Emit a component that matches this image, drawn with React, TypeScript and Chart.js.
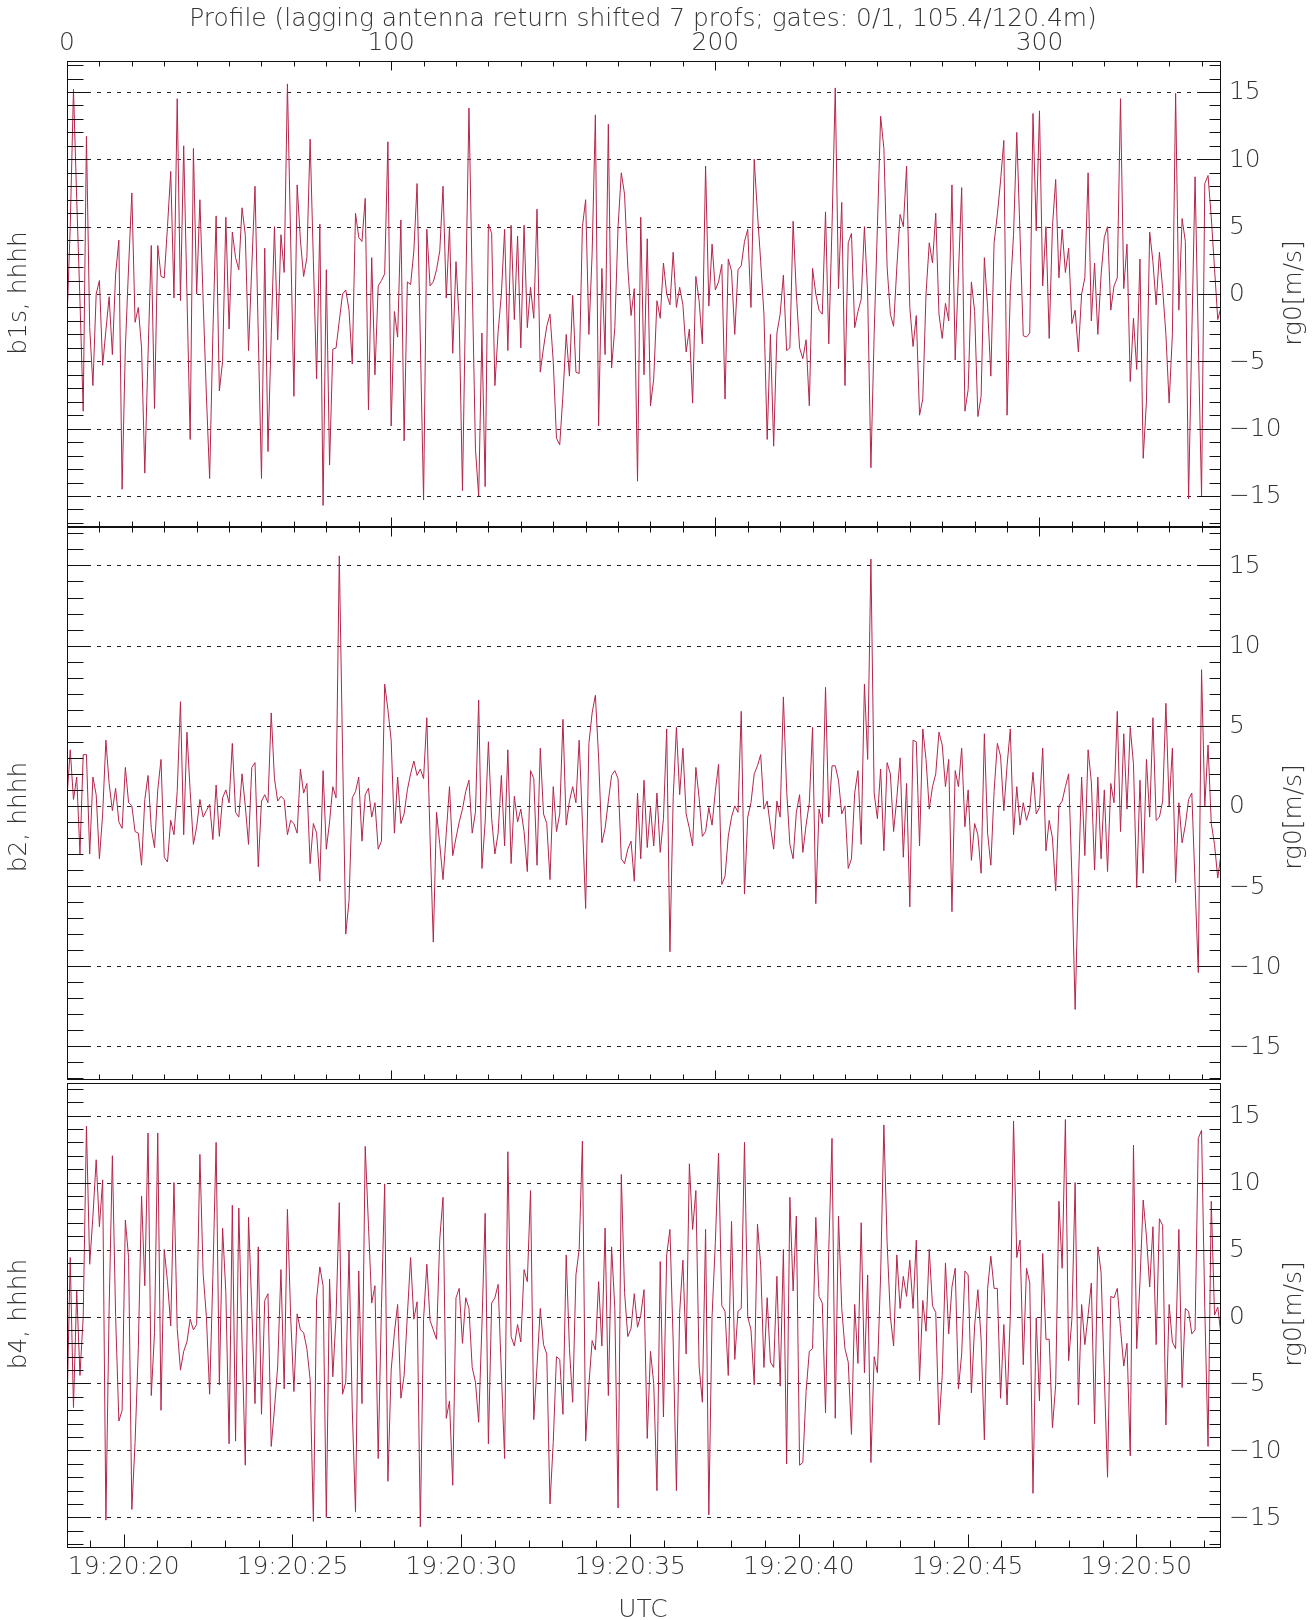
import React, { useEffect, useRef } from 'react';
import { Chart, registerables } from 'chart.js';

Chart.register(...registerables);

// ---------------- data ----------------
const PROFILE_MAX = 356;
const TIME_START = 18.32; // seconds after 19:20:00 at profile 0
const TIME_END = 52.51; // seconds after 19:20:00 at profile 356

const profileTickLabels = [0, 100, 200, 300];
const timeTickSeconds = [20, 25, 30, 35, 40, 45, 50];
const timeTickLabels = ['19:20:20', '19:20:25', '19:20:30', '19:20:35', '19:20:40', '19:20:45', '19:20:50'];
const yTickValues = [15, 10, 5, 0, -5, -10, -15];

const b1s = [
  -2, 5, 15.2, 7, -0.5, -8.7, 11.7, -2.5, -6.8, 0,
  1, -5.3, -2.7, -0.2, -4.5, 1.5, 4, -14.5, -4, 2,
  7.5, -2.1, -1, -4, -13.3, -4.5, 3.6, -8.5, 3.6, 1.3,
  1.2, 5, 9.1, -0.3, 14.5, -0.5, 11, 0, -10.8, 10.8,
  0, 7, -0.5, -7.5, -13.7, -3, 5.8, -7.2, -5, 5.7,
  -2.6, 4.6, 2.7, 1.8, 6.4, 4.4, -4.2, 2, 8, -3,
  -13.7, 3.4, -11.7, -3, 5, -3.4, 4.4, 1.6, 15.6, 4,
  -7.6, 8.1, 4, 1.3, 2.7, 11.5, 2.5, -6.3, 5.2, -15.7,
  1.8, -12.7, -4.1, -4, -2, 0, 0.3, -1.2, -5.2, 6,
  4.2, 3.9, 7.1, -8.6, 2.7, -6, 0.6, 1, 1.5, 11.3,
  -9.8, -1.3, -3.2, 5.5, -10.9, 0.9, 0.7, 3.2, 8.2, -3.5,
  -15.3, 4.8, 0.6, 0.9, 1.8, 3.2, 8, -0.3, 5, -4.4,
  2.4, -2, -14.6, 0, 13.8, 1, -11.5, -15, -2.9, -14.3,
  5.2, 4.5, -6.8, -2.8, 0, 4.8, -4.2, 5.1, -1.9, 4.3,
  -4, 5.1, -2.5, 0.5, -1.8, 6.3, -5.8, -4, -2.4, -1.5,
  -5, -10.7, -11.2, -7.5, -3, -6.1, -0.1, -5.8, -5.9, 5,
  7, -3, 3, 13.3, -9.8, 1.9, -4.5, 12.6, -5.5, -2.5,
  5, 9, 7.4, 2, -1.6, 0.4, -13.9, 5.7, -6, 4.1,
  -8.3, -6.3, -0.5, -1.8, 2.3, 0, -0.8, 3.1, -1, 0.5,
  -0.8, -4.3, -2.6, -8.1, 1.3, -0.5, -3.7, 9.5, -0.9, 3.7,
  0.3, 0.9, 2.2, -7.8, 2.6, 1.7, -3, 1.8, 2.1, 3.9,
  4.8, -1, 10, 6, 2.4, -1.5, -10.8, -3, -11.3, -2.9,
  -1.5, 1.4, -4.2, -4, 5.4, 0, -4, -4.8, -3.4, -8.3,
  1.9, 0, -1.2, -1.5, 6.1, -3.7, 5, 15.3, 0.4, 6.8,
  -6.8, 3.8, 4.5, -2.5, -1.3, -0.4, 5, 0, -12.9, -3,
  5, 13.2, 10.8, 2, -1.5, -2.4, 2, 5.9, 5, 9.5,
  -1, -3.9, -1.6, -9, -7.8, 0, 3.8, 2.3, 6, -1.5,
  -3.3, -0.7, -2, 8.1, -4.9, 1.5, 7.9, -8.7, -7.1, 0.9,
  -1.3, -9.1, -7.6, 2.7, -1, -6.1, 3.8, 5.9, 8.4, 11.4,
  -9, 0.2, 4.4, 12, 4.4, -3.1, -3.2, -2.9, 13.4, 4.7,
  13.6, 0.6, 5, -3.3, 5, 8.5, 1.2, 4.8, 1.6, 3.4,
  -2.2, -1.2, -4.3, 0, 1.2, 9, -2, 2.3, -3, 1.4,
  4.2, 5, -1.2, 0.6, 1.2, 14.5, 0.4, 3.7, -6.5, -1.8,
  -5.6, 2.6, -12.2, -8, 4.6, 2.4, -0.8, 3.1, 0.4, -3,
  -8.1, -3, 14.9, -1.2, 5.6, 3.9, -15.2, -3, 8.7, -3.5,
  -15, 8.2, 8.8, 5.7, 1.9, -1.9, -1,
];

const b2 = [
  0.5, 3.5, 0.4, 1.8, -3, 3.2, 3.2, -3, 1.8, 0.7,
  -3.3, -0.5, 4.1, 1.4, -0.3, 1.1, -1, -1.4, 2.4, 0.2,
  0, -1.6, -1.7, -3.7, 0.4, 1.9, -1.4, -2.6, 1, 2.9,
  -3.2, -3.5, -0.9, -1.8, 0.9, 6.5, -1.8, 4.6, 0.9, -2.4,
  -1.3, 0.4, -0.7, -0.3, 0.1, -2.1, 1.3, -1.9, 0.5, 1,
  0.2, 3.9, -0.4, -0.7, 2, 0, -2.4, 2.4, 2.7, -3.8,
  0.3, 0.7, 0.2, 5.8, 1.7, 0.3, 0.6, 0.4, -1.8, -0.9,
  -1.1, -1.7, 2.3, 0.8, 1.4, -3.6, -1.1, -1.7, -4.7, 2.2,
  -2.7, -1, 1.2, 0.5, 15.6, 3.5, -8, -5.9, 0.5, 0.9,
  1.8, -2.2, 0.7, 1.1, -0.7, 0.2, -2.7, -2.2, 7.6, 6,
  4.1, -1.7, 1.8, -1.1, -0.5, 1, 2, 2.8, 1.9, 2.3,
  1.7, 5.5, -2, -8.5, -0.4, -2.4, -4.6, -1.7, 1.2, -3.1,
  -2, -1, -0.2, 0.9, 1.6, -1.7, -0.4, 6.6, -3.9, -1,
  4, -0.8, -3, -1.7, 1.9, -2.5, 3.5, -3.6, 0.6, -1,
  -0.2, -1.6, -4.1, 2.2, 1.7, -3.7, 3.6, -0.5, -1.1, -4.6,
  1.2, -1.6, -0.5, 5.4, -1.2, 0.3, 1.2, 0.2, 4.1, -1,
  -6.4, 3.9, 5.8, 6.9, 3, -2.3, -1.4, 0.3, 1.9, 2.2,
  1.7, -3.3, -3.6, -2.7, -2.2, -4.7, 0.8, -3.3, 1.6, -2.6,
  -0.1, -2.5, 0.8, -2.9, -0.8, 4.8, -9.1, 0.5, 4.9, 0.7,
  3.6, -0.5, -1.4, -2.5, 2.4, 0.5, -1.9, -1.6, -0.1, -1.2,
  0.9, 2.6, -4.9, -4.4, -1.9, -0.7, 0, -0.4, 5.9, -5.5,
  -0.7, 0.2, 2, 2.5, 3.2, -0.2, 0.3, -1.3, -2.7, 0.3,
  -0.7, 6.8, 1, -2.4, -3.3, -0.4, 0.7, -2.9, -1.2, 0.2,
  4.9, -6.1, -0.2, -1.1, 7.4, -0.7, 2.5, 2.5, 1.6, -0.5,
  0, -3.9, -3.3, 0.8, 2.2, -2.4, 7.6, 2.9, 15.4, 0.8,
  -0.8, 2.3, -2.8, 2.7, 2, -1.6, 0.5, 3, -3.2, 1.4,
  -6.3, 4.1, 4, -2.5, 4.8, 2.9, -0.2, 1.2, 2, 4.6,
  3.8, 1.2, 2.9, -6.6, 2.2, 1.2, 3.6, -1.3, 1, -3.4,
  -1.1, -1.8, -4.2, 4.5, -1.7, -3.7, 0.9, 3.9, 3.1, -0.3,
  2.5, 4.8, -1.8, 1.2, -1.2, 0.2, -0.9, -0.2, 2.1, -0.5,
  -0.1, 3.6, -2.8, -0.9, -2, -5.3, 0, 0.3, 1.2, 2,
  -4.4, -12.7, -4.9, 1.8, -3.1, 3.5, 1.5, -4, 1.8, -3.3,
  1, -4.1, 1.4, 0.2, 5.9, -1.6, 4.5, -0.2, 4.9, 2.6,
  -5.1, 1.6, -4.2, 2.9, -0.7, 5.5, -0.9, -0.7, 0.3, 6.4,
  0, 3.6, -4.8, 0.2, -2.3, -1.2, 0.4, 0.8, -4.9, -10.4,
  8.5, 0, 3.8, -1.1, -2.4, -4.5, -3,
];

const b4 = [
  -7, 4.4, -6.8, 1.9, -4.4, 0, 14.2, 3.9, 7.5, 11.7,
  6.7, 10.2, -15.2, 0.6, 12, 0, -7.8, -7, 7.2, 4.4,
  -14.4, -9.4, -2.4, 9, 2.3, 13.7, -5.9, -1.2, 13.7, -7,
  5, 2.6, -0.7, 10, -0.9, -4, -2.6, -1.9, -0.2, -1,
  -0.6, 12.1, 3.2, 0, -5.8, 3, 13, -5.1, 6.6, 1.8,
  -9.5, 8.3, -9.3, 8.1, -1.9, -11.1, 7.4, 0.6, -6.5, 5.2,
  -7.3, 1.2, 1.7, -9.7, -6.9, -3.7, 3.5, -5.4, 8, 0,
  -5.6, 0.2, -1, -1.2, -2.4, -4.7, -15.3, 1.3, 3.7, 2.3,
  -15, 2.8, -4.5, 0, 8.5, -5.8, -4.9, 4.9, -6.9, -14.6,
  3.4, -6.5, 12.7, 6.8, 1, 2.3, -10.6, 0.6, 9.9, -12.3,
  -4, -1.2, 0.9, -6.1, -4.4, 0.1, 4.4, -0.2, 1.1, -15.7,
  -0.2, 3.9, -0.3, -1, -1.7, 5.8, 8.9, -7.6, -6.3, -12.6,
  1.4, 2.1, -2, 1.4, 0.6, -3.8, -4.9, -7.9, -0.7, 7.7,
  -9.5, 1, 1.4, 2.4, -4.2, -10.6, 12.3, -1.5, -2.2, -0.6,
  -1.9, 3.5, 2.6, 9.4, -7.7, -3.7, 0.6, -2.1, -2.8, -14,
  -9.4, -3, -3.2, -7.3, 4.6, -2.4, -6.4, 3.1, 5, 13.1,
  -9.3, -5.1, -1.8, -2.5, 2.6, -2.2, 6.6, -5.9, 5.2, 0.6,
  -14.3, 10.6, 1.8, -1.5, -0.9, 1.7, -0.8, 0.1, 2, -9.1,
  -2.6, -5, -13, 4.1, -7.5, 4.6, 6.5, -1.9, -13, 0.3,
  4.2, -2.8, 11.4, 6.5, 9.4, -3.7, -6.4, 6.5, -14.8, 0,
  5.5, 12.2, 0.8, 0.4, -4.4, 7.1, -3.2, 0.4, 0.6, 13,
  0, -1, -5.1, 6.9, 3.8, -3.8, 1.4, -3.4, -3.8, 3,
  -5.2, 5, -11, 8.9, 1.9, 7.5, -11.1, -10.9, -5.6, -2.6,
  -2.4, 7.4, 1.5, 1, -7.2, 5, 13.3, -7.6, 7.5, 0.6,
  -2.4, -3.4, -8.8, 0.9, -3.5, 7, -4.2, 3.1, -10.9, -3,
  -4.2, 3.1, 14.3, 5.5, 0, -2.2, 4.6, 0.6, 3, 1.5,
  4.2, 0.6, 5.7, -4.8, 1.2, -1.1, 5, 0.8, 0.3, -8.1,
  -4.4, 4, -1.3, 2.2, 3.6, -5.4, -2.8, 3.4, 3.1, -5.7,
  -0.7, 2, -1.7, -9.2, 2.1, 4.5, 2.1, 2.1, -6.1, -0.6,
  -6.6, 0.1, 14.6, 4.4, 5.7, -3.6, 3.6, 2.5, -13.2, -0.1,
  -6.3, 4.7, -1.7, -1.7, -8.3, -5.1, 8.6, 3.6, 14.7, -3.3,
  -0.2, 10, -6.6, 0.9, -2.1, 0.1, 2.5, -8, 5.2, 3.3,
  -4.4, -12, 1.5, 1.4, 2.1, -0.9, -3.7, -2, -10.4, 12.8,
  -2.4, 2.6, 8.7, 6, 2.2, 6.7, -2.1, 7.3, 6.8, -8.1,
  0.9, -1.9, -2.4, 6.5, -5.3, 0.6, 0.4, -1.3, -1, 13.3,
  13.9, 0.6, -9.7, 8.6, 0.1, 0.7, -1.4,
];

// ---------------- styling / layout ----------------
const W = 1313;
const H = 1620;
const PLOT_LEFT = 67;
const PLOT_RIGHT = 1221;
const LINE_COLOR = '#b5254a';
const AXIS_COLOR = '#111111';
const GRID_COLOR = '#222222';
const TEXT_COLOR = '#333333';
const FONT_FAMILY = '"DejaVu Sans", "Liberation Sans", sans-serif';
const FONT_WEIGHT = '200';
const TITLE_TEXT = 'Profile (lagging antenna return shifted 7 profs; gates: 0/1, 105.4/120.4m)';
const TITLE_WIDTH = 908;

type PanelCfg = {
  key: string;
  values: number[];
  leftTitle: string;
  top: number;
  bottom: number;
  yMin: number;
  yMax: number;
  titleY: number;
  topTicks: boolean;
  bottomAxis: 'profile' | 'time';
  first: boolean;
};

const panels: PanelCfg[] = [
  { key: 'p1', values: b1s, leftTitle: 'b1s, hhhh', top: 61, bottom: 527, yMin: -17.3, yMax: 17.3, titleY: 293, topTicks: true, bottomAxis: 'profile', first: true },
  { key: 'p2', values: b2, leftTitle: 'b2, hhhh', top: 527, bottom: 1080, yMin: -17.1, yMax: 17.4, titleY: 817, topTicks: true, bottomAxis: 'profile', first: false },
  { key: 'p3', values: b4, leftTitle: 'b4, hhhh', top: 1083, bottom: 1548, yMin: -17.28, yMax: 17.43, titleY: 1314, topTicks: false, bottomAxis: 'time', first: false },
];

let fontSizeCache = 0;
function fontSize(ctx: CanvasRenderingContext2D): number {
  if (fontSizeCache) return fontSizeCache;
  ctx.save();
  ctx.font = `${FONT_WEIGHT} 100px ${FONT_FAMILY}`;
  const w = ctx.measureText(TITLE_TEXT).width;
  ctx.restore();
  fontSizeCache = Math.max(14, Math.min(26, (100 * TITLE_WIDTH) / w));
  return fontSizeCache;
}

function fmt(v: number): string {
  return v < 0 ? '\u2212' + Math.abs(v) : String(v);
}

function makeDecor(p: PanelCfg) {
  return {
    id: 'decor_' + p.key,
    beforeDatasetsDraw(chart: any) {
      const { ctx, chartArea: a, scales } = chart;
      const Y = scales.y;
      ctx.save();
      ctx.strokeStyle = GRID_COLOR;
      ctx.lineWidth = 1;
      ctx.setLineDash([4, 6]);
      for (const v of yTickValues) {
        const py = Math.round(Y.getPixelForValue(v)) + 0.5;
        ctx.beginPath();
        ctx.moveTo(a.left, py);
        ctx.lineTo(a.right, py);
        ctx.stroke();
      }
      ctx.restore();
    },
    afterDraw(chart: any) {
      const { ctx, chartArea: a, scales } = chart;
      const X = scales.x;
      const T = scales.t;
      const Y = scales.y;
      const fs = fontSize(ctx);
      const L = Math.round(a.left) + 0.5;
      const R = Math.round(a.right) - 0.5;
      const Tp = Math.round(a.top) + 0.5;
      const B = Math.round(a.bottom) - 0.5;
      const line = (x1: number, y1: number, x2: number, y2: number) => {
        ctx.beginPath();
        ctx.moveTo(x1, y1);
        ctx.lineTo(x2, y2);
        ctx.stroke();
      };
      ctx.save();
      ctx.setLineDash([]);
      ctx.strokeStyle = AXIS_COLOR;
      ctx.lineWidth = 1;
      ctx.strokeRect(L, Tp, R - L, B - Tp);

      // y ticks (inward), minor every 1, major every 5
      for (let v = -17; v <= 17; v++) {
        if (v < p.yMin || v > p.yMax) continue;
        const py = Math.round(Y.getPixelForValue(v)) + 0.5;
        const major = v % 5 === 0;
        line(L, py, L + (major ? 22 : 16), py);
        line(R, py, R - (major ? 22 : 11), py);
      }
      // profile ticks
      for (let pr = 0; pr <= PROFILE_MAX; pr += 10) {
        const px = Math.round(X.getPixelForValue(pr)) + 0.5;
        const len = pr % 100 === 0 ? 9 : 5;
        if (p.topTicks) line(px, Tp, px, Tp + len);
        if (p.bottomAxis === 'profile') line(px, B, px, B - len);
      }
      // time ticks
      if (p.bottomAxis === 'time') {
        for (let s = Math.ceil(TIME_START); s <= TIME_END; s++) {
          const px = Math.round(T.getPixelForValue(s)) + 0.5;
          const len = s % 5 === 0 ? 13 : 7;
          line(px, B, px, B - len);
        }
      }

      ctx.fillStyle = TEXT_COLOR;
      ctx.font = `${FONT_WEIGHT} ${fs}px ${FONT_FAMILY}`;
      // right tick labels
      ctx.textAlign = 'left';
      ctx.textBaseline = 'middle';
      for (const v of yTickValues) {
        const py = Y.getPixelForValue(v);
        ctx.fillText(fmt(v), a.right + 8, py + 1);
      }
      // axis titles (rotated)
      ctx.textAlign = 'center';
      ctx.textBaseline = 'middle';
      ctx.save();
      ctx.translate(20, p.titleY);
      ctx.rotate(-Math.PI / 2);
      ctx.fillText(p.leftTitle, 0, 0);
      ctx.restore();
      ctx.save();
      ctx.translate(1295, p.titleY);
      ctx.rotate(-Math.PI / 2);
      ctx.fillText('rg0[m/s]', 0, 0);
      ctx.restore();

      if (p.first) {
        ctx.textAlign = 'center';
        ctx.textBaseline = 'middle';
        ctx.fillText(TITLE_TEXT, 643, 20);
        for (const pr of profileTickLabels) {
          ctx.fillText(String(pr), X.getPixelForValue(pr), 44);
        }
      }
      if (p.bottomAxis === 'time') {
        ctx.textAlign = 'center';
        ctx.textBaseline = 'middle';
        timeTickSeconds.forEach((s, k) => {
          ctx.fillText(timeTickLabels[k], T.getPixelForValue(s), 1568);
        });
        ctx.fillText('UTC', 643, 1611);
      }
      ctx.restore();
    },
  };
}

function Panel({ cfg }: { cfg: PanelCfg }) {
  const ref = useRef<HTMLCanvasElement | null>(null);
  useEffect(() => {
    const canvas = ref.current;
    if (!canvas) return;
    const chart = new Chart(canvas, {
      type: 'line',
      data: {
        datasets: [
          {
            data: cfg.values.map((v, i) => ({ x: i, y: v })),
            borderColor: LINE_COLOR,
            borderWidth: 1,
            pointRadius: 0,
            tension: 0,
            fill: false,
          },
        ],
      },
      options: {
        responsive: false,
        animation: false,
        devicePixelRatio: 1,
        events: [],
        layout: {
          padding: { left: PLOT_LEFT, right: W - PLOT_RIGHT, top: cfg.top, bottom: H - cfg.bottom },
        },
        plugins: {
          legend: { display: false },
          tooltip: { enabled: false },
          title: { display: false },
        },
        scales: {
          x: { type: 'linear', min: 0, max: PROFILE_MAX, display: false },
          t: { type: 'linear', axis: 'x', position: 'bottom', min: TIME_START, max: TIME_END, display: false },
          y: { type: 'linear', min: cfg.yMin, max: cfg.yMax, display: false },
        },
      } as any,
      plugins: [makeDecor(cfg)],
    });
    return () => chart.destroy();
  }, [cfg]);
  return (
    <canvas
      ref={ref}
      width={W}
      height={H}
      style={{ position: 'absolute', left: 0, top: 0, width: W, height: H, pointerEvents: 'none' }}
    />
  );
}

export default function App() {
  return (
    <div style={{ position: 'absolute', left: 0, top: 0, width: W, height: H, background: '#ffffff', overflow: 'hidden' }}>
      {panels.map((p) => (
        <Panel key={p.key} cfg={p} />
      ))}
    </div>
  );
}
